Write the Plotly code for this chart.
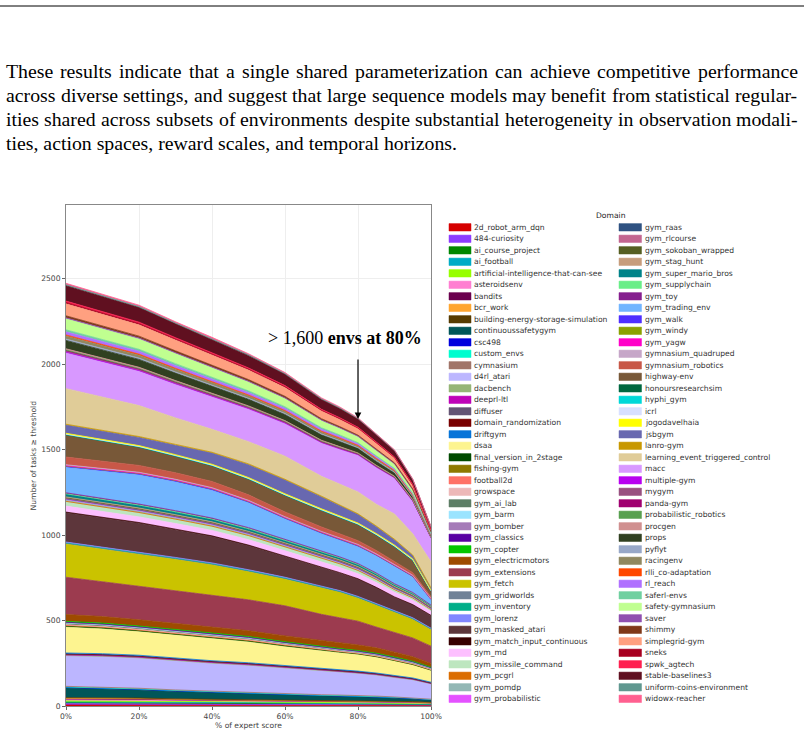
import plotly.graph_objects as go

# ---------------- data ----------------
x_pct = [0, 10, 20, 30, 40, 50, 60, 70, 75, 80, 85, 90, 95, 100]

d_2d_robot_arm_dqn = [6, 6, 6, 5, 5, 5, 5, 4, 4, 4, 4, 3, 3, 3]
d_484_curiosity = [8, 8, 7, 7, 7, 6, 6, 6, 6, 5, 5, 5, 4, 4]
d_ai_course_project = [7, 7, 7, 6, 6, 6, 5, 5, 5, 5, 4, 4, 4, 3]
d_ai_football = [3, 3, 3, 3, 3, 3, 2, 2, 2, 2, 2, 2, 2, 1]
d_artificial_intelligence_that_can_see = [6, 6, 6, 5, 5, 5, 5, 4, 4, 4, 4, 3, 3, 3]
d_asteroidsenv = [8, 8, 7, 7, 6, 6, 6, 5, 5, 5, 5, 4, 4, 3]
d_bandits = [3, 3, 3, 3, 2, 2, 2, 2, 2, 2, 2, 2, 2, 1]
d_bcr_work = [4, 4, 4, 3, 3, 3, 3, 3, 3, 3, 2, 2, 2, 2]
d_building_energy_storage_simulation = [4, 4, 4, 3, 3, 3, 3, 3, 3, 3, 2, 2, 2, 2]
d_continuoussafetygym = [56, 52, 47, 43, 38, 33, 28, 25, 23, 22, 21, 20, 17, 13]
d_csc498 = [4, 4, 4, 4, 3, 3, 3, 3, 3, 3, 3, 3, 2, 2]
d_custom_envs = [2, 2, 2, 2, 2, 2, 2, 1, 1, 1, 1, 1, 1, 1]
d_cymnasium = [4, 4, 4, 3, 3, 3, 3, 3, 3, 3, 3, 2, 2, 2]
d_d4rl_atari = [177, 177, 175, 168, 162, 157, 150, 140, 134, 128, 122, 112, 104, 88]
d_dacbench = [3, 3, 3, 3, 3, 2, 2, 2, 2, 2, 2, 2, 2, 2]
d_deeprl_ltl = [4, 4, 4, 4, 4, 4, 3, 3, 3, 3, 3, 3, 3, 2]
d_diffuser = [3, 3, 3, 3, 3, 3, 3, 2, 2, 2, 2, 2, 2, 2]
d_domain_randomization = [2, 2, 2, 2, 2, 2, 2, 2, 2, 2, 2, 1, 1, 1]
d_driftgym = [6, 6, 6, 6, 5, 5, 5, 5, 5, 5, 4, 4, 4, 4]
d_dsaa = [152, 146, 138, 135, 131, 123, 110, 102, 100, 97, 92, 86, 76, 68]
d_final_version_in_2stage = [5, 5, 5, 5, 5, 4, 4, 4, 4, 4, 4, 3, 3, 3]
d_fishing_gym = [3, 3, 3, 3, 3, 3, 3, 2, 2, 2, 2, 2, 2, 2]
d_football2d = [3, 3, 3, 3, 3, 3, 3, 3, 2, 2, 2, 2, 2, 2]
d_growspace = [3, 3, 3, 3, 3, 3, 3, 2, 2, 2, 2, 2, 2, 2]
d_gym_ai_lab = [6, 6, 6, 6, 5, 5, 5, 5, 5, 4, 4, 4, 4, 3]
d_gym_barm = [3, 3, 3, 3, 3, 3, 2, 2, 2, 2, 2, 2, 2, 2]
d_gym_bomber = [3, 3, 3, 3, 3, 3, 2, 2, 2, 2, 2, 2, 2, 2]
d_gym_classics = [2, 2, 2, 2, 2, 2, 2, 2, 2, 2, 2, 2, 2, 1]
d_gym_copter = [5, 5, 5, 5, 5, 5, 4, 4, 4, 4, 4, 4, 3, 3]
d_gym_electricmotors = [40, 38, 36, 34, 33, 33, 34, 33, 33, 32, 31, 29, 26, 22]
d_gym_extensions = [218, 204, 195, 193, 189, 181, 176, 155, 146, 139, 122, 113, 110, 101]
d_gym_fetch = [195, 193, 189, 183, 176, 165, 157, 156, 150, 136, 128, 118, 109, 98]
d_gym_gridworlds = [4, 4, 4, 4, 4, 4, 3, 3, 3, 3, 3, 3, 3, 2]
d_gym_inventory = [2, 2, 2, 2, 2, 2, 2, 2, 2, 2, 2, 2, 2, 2]
d_gym_lorenz = [5, 5, 5, 5, 5, 5, 5, 4, 4, 4, 4, 4, 4, 3]
d_gym_masked_atari = [171, 169, 170, 161, 154, 140, 122, 108, 102, 100, 92, 80, 74, 72]
d_gym_match_input_continuous = [4, 4, 4, 4, 4, 4, 3, 3, 3, 3, 3, 3, 3, 3]
d_gym_md = [35, 34, 33, 33, 32, 32, 31, 30, 30, 29, 28, 27, 25, 22]
d_gym_missile_command = [25, 24, 23, 23, 22, 21, 20, 19, 19, 18, 16, 14, 12, 10]
d_gym_pcgrl = [3, 3, 3, 3, 3, 3, 3, 3, 3, 2, 2, 2, 2, 2]
d_gym_pomdp = [8, 8, 8, 8, 7, 7, 7, 6, 6, 6, 6, 5, 5, 4]
d_gym_probabilistic = [4, 4, 4, 4, 4, 4, 3, 3, 3, 3, 3, 3, 3, 2]
d_gym_raas = [3, 3, 3, 3, 3, 3, 3, 3, 3, 3, 3, 2, 2, 2]
d_gym_rlcourse = [3, 3, 3, 3, 3, 3, 3, 3, 3, 3, 3, 2, 2, 2]
d_gym_sokoban_wrapped = [3, 3, 3, 3, 3, 3, 3, 3, 3, 3, 2, 2, 2, 2]
d_gym_stag_hunt = [5, 5, 5, 5, 5, 4, 4, 4, 4, 4, 4, 4, 3, 3]
d_gym_super_mario_bros = [15, 15, 14, 14, 13, 13, 12, 12, 11, 11, 10, 9, 8, 6]
d_gym_supplychain = [4, 4, 4, 4, 4, 4, 3, 3, 3, 3, 3, 3, 3, 2]
d_gym_toy = [5, 5, 5, 5, 5, 5, 5, 4, 4, 4, 4, 4, 4, 3]
d_gym_trading_env = [148, 160, 170, 168, 162, 145, 118, 102, 98, 98, 100, 100, 90, 30]
d_gym_walk = [6, 6, 6, 6, 6, 5, 5, 5, 5, 5, 4, 4, 4, 3]
d_gym_windy = [3, 3, 3, 3, 3, 3, 3, 3, 3, 3, 2, 2, 2, 2]
d_gym_yagw = [2, 2, 2, 2, 2, 2, 2, 2, 2, 2, 2, 2, 2, 1]
d_gymnasium_quadruped = [5, 5, 5, 5, 5, 5, 4, 4, 4, 4, 4, 4, 3, 3]
d_gymnasium_robotics = [45, 42, 40, 38, 36, 32, 28, 26, 24, 22, 20, 18, 15, 10]
d_highway_env = [128, 115, 105, 95, 90, 90, 95, 95, 94, 92, 88, 85, 70, 32]
d_honoursresearchsim = [2, 2, 2, 2, 2, 2, 2, 2, 2, 2, 2, 2, 2, 1]
d_hyphi_gym = [2, 2, 2, 2, 2, 2, 2, 2, 2, 2, 2, 2, 2, 1]
d_icrl = [2, 2, 2, 2, 2, 2, 2, 2, 2, 2, 2, 2, 2, 1]
d_jogodavelhaia = [5, 5, 5, 5, 5, 5, 5, 5, 5, 5, 5, 5, 4, 4]
d_jsbgym = [48, 46, 48, 55, 65, 75, 80, 70, 60, 50, 40, 30, 20, 10]
d_lanro_gym = [5, 5, 5, 5, 5, 5, 5, 4, 4, 4, 4, 4, 3, 3]
d_learning_event_triggered_control = [208, 195, 181, 155, 134, 130, 135, 116, 119, 128, 127, 148, 124, 152]
d_macc = [209, 205, 200, 195, 192, 190, 190, 195, 205, 215, 215, 210, 190, 140]
d_multiple_gym = [5, 5, 5, 5, 4, 4, 4, 3, 3, 3, 3, 2, 2, 1]
d_mygym = [5, 5, 5, 5, 4, 4, 4, 3, 3, 3, 3, 2, 2, 1]
d_panda_gym = [4, 4, 4, 4, 3, 3, 3, 3, 3, 2, 2, 2, 2, 1]
d_probabilistic_robotics = [4, 4, 4, 4, 3, 3, 3, 3, 3, 2, 2, 2, 2, 1]
d_procgen = [6, 6, 6, 5, 5, 5, 4, 4, 4, 3, 3, 3, 2, 1]
d_props = [49, 48, 46, 44, 42, 39, 36, 32, 30, 27, 24, 20, 15, 8]
d_pyflyt = [8, 8, 8, 7, 7, 6, 6, 5, 5, 4, 4, 3, 3, 2]
d_racingenv = [18, 18, 17, 16, 15, 14, 13, 12, 11, 10, 9, 7, 6, 3]
d_rlli_co_adaptation = [6, 6, 6, 5, 5, 5, 4, 4, 4, 3, 3, 3, 2, 1]
d_rl_reach = [18, 18, 17, 16, 15, 14, 13, 12, 11, 10, 9, 7, 6, 3]
d_saferl_envs = [12, 12, 11, 11, 10, 10, 9, 8, 7, 6, 6, 5, 4, 2]
d_safety_gymnasium = [65, 63, 61, 59, 56, 52, 48, 42, 39, 35, 31, 26, 20, 9]
d_saver = [5, 5, 5, 5, 4, 4, 4, 3, 3, 3, 3, 2, 2, 1]
d_shimmy = [12, 12, 11, 11, 10, 10, 9, 8, 7, 6, 6, 5, 4, 2]
d_simplegrid_gym = [70, 68, 66, 63, 60, 56, 51, 45, 42, 38, 33, 28, 21, 10]
d_sneks = [8, 8, 8, 7, 7, 6, 6, 5, 5, 4, 4, 3, 3, 2]
d_spwk_agtech = [8, 8, 8, 7, 7, 6, 6, 5, 5, 4, 4, 3, 3, 2]
d_stable_baselines3 = [90, 88, 85, 81, 77, 72, 66, 58, 54, 48, 43, 36, 27, 13]
d_uniform_coins_environment = [6, 6, 6, 5, 5, 5, 4, 4, 4, 3, 3, 3, 2, 1]
d_widowx_reacher = [8, 8, 8, 7, 7, 6, 6, 5, 5, 4, 4, 3, 3, 2]

domains = [
    "2d_robot_arm_dqn", "484-curiosity", "ai_course_project", "ai_football",
    "artificial-intelligence-that-can-see", "asteroidsenv", "bandits", "bcr_work",
    "building-energy-storage-simulation", "continuoussafetygym", "csc498", "custom_envs",
    "cymnasium", "d4rl_atari", "dacbench", "deeprl-ltl", "diffuser", "domain_randomization",
    "driftgym", "dsaa", "final_version_in_2stage", "fishing-gym", "football2d", "growspace",
    "gym_ai_lab", "gym_barm", "gym_bomber", "gym_classics", "gym_copter", "gym_electricmotors",
    "gym_extensions", "gym_fetch", "gym_gridworlds", "gym_inventory", "gym_lorenz",
    "gym_masked_atari", "gym_match_input_continuous", "gym_md", "gym_missile_command",
    "gym_pcgrl", "gym_pomdp", "gym_probabilistic",
    "gym_raas", "gym_rlcourse", "gym_sokoban_wrapped", "gym_stag_hunt", "gym_super_mario_bros",
    "gym_supplychain", "gym_toy", "gym_trading_env", "gym_walk", "gym_windy", "gym_yagw",
    "gymnasium_quadruped", "gymnasium_robotics", "highway-env", "honoursresearchsim",
    "hyphi_gym", "icrl", "jogodavelhaia", "jsbgym", "lanro-gym",
    "learning_event_triggered_control", "macc", "multiple-gym", "mygym", "panda-gym",
    "probabilistic_robotics", "procgen", "props", "pyflyt", "racingenv", "rlli_co-adaptation",
    "rl_reach", "saferl-envs", "safety-gymnasium", "saver", "shimmy", "simplegrid-gym",
    "sneks", "spwk_agtech", "stable-baselines3", "uniform-coins-environment", "widowx-reacher",
]

series_values = [
    d_2d_robot_arm_dqn, d_484_curiosity, d_ai_course_project, d_ai_football,
    d_artificial_intelligence_that_can_see, d_asteroidsenv, d_bandits, d_bcr_work,
    d_building_energy_storage_simulation, d_continuoussafetygym, d_csc498, d_custom_envs,
    d_cymnasium, d_d4rl_atari, d_dacbench, d_deeprl_ltl, d_diffuser, d_domain_randomization,
    d_driftgym, d_dsaa, d_final_version_in_2stage, d_fishing_gym, d_football2d, d_growspace,
    d_gym_ai_lab, d_gym_barm, d_gym_bomber, d_gym_classics, d_gym_copter, d_gym_electricmotors,
    d_gym_extensions, d_gym_fetch, d_gym_gridworlds, d_gym_inventory, d_gym_lorenz,
    d_gym_masked_atari, d_gym_match_input_continuous, d_gym_md, d_gym_missile_command,
    d_gym_pcgrl, d_gym_pomdp, d_gym_probabilistic,
    d_gym_raas, d_gym_rlcourse, d_gym_sokoban_wrapped, d_gym_stag_hunt, d_gym_super_mario_bros,
    d_gym_supplychain, d_gym_toy, d_gym_trading_env, d_gym_walk, d_gym_windy, d_gym_yagw,
    d_gymnasium_quadruped, d_gymnasium_robotics, d_highway_env, d_honoursresearchsim,
    d_hyphi_gym, d_icrl, d_jogodavelhaia, d_jsbgym, d_lanro_gym,
    d_learning_event_triggered_control, d_macc, d_multiple_gym, d_mygym, d_panda_gym,
    d_probabilistic_robotics, d_procgen, d_props, d_pyflyt, d_racingenv, d_rlli_co_adaptation,
    d_rl_reach, d_saferl_envs, d_safety_gymnasium, d_saver, d_shimmy, d_simplegrid_gym,
    d_sneks, d_spwk_agtech, d_stable_baselines3, d_uniform_coins_environment, d_widowx_reacher,
]

colors = [
    "#d60000", "#8c3bff", "#018700", "#00acc6", "#97ff00", "#ff7ed1", "#6b004f", "#ffa52f",
    "#573b00", "#005659", "#0000dd", "#00fdcf", "#a17569", "#bcb6ff", "#95b577", "#bf03b8",
    "#645474", "#790000", "#0774d8", "#fdf490", "#004b00", "#8e7900", "#ff7266", "#edb8b8",
    "#5d7e66", "#9ae4ff", "#a57bb8", "#5900a3", "#03c600", "#9e4b00", "#9c3b4f", "#cac300",
    "#708297", "#00af89", "#8287ff", "#5d363b", "#380000", "#fdbfff", "#bde6bf", "#db6d01",
    "#93b8b5", "#e452ff",
    "#2f5282", "#c36690", "#555f22", "#c79d7c", "#008389", "#6aee88", "#861f8f", "#71b5ff",
    "#4f2fff", "#8ba100", "#ff00c8", "#c6a6c8", "#c85848", "#785838", "#006840", "#00d8d8",
    "#d8e0ff", "#ffff00", "#6868b0", "#c89800", "#e0cc98", "#d898ff", "#b800f0", "#985080",
    "#a00070", "#58a050", "#d09090", "#304020", "#98a8c8", "#908860", "#ff4800", "#b070ff",
    "#70d0a0", "#c0ff90", "#9050b0", "#803818", "#ffa080", "#a80020", "#ff2050", "#601020",
    "#609890", "#ff6090",
]

x_tick_vals = [0, 20, 40, 60, 80, 100]
x_tick_text = ["0%", "20%", "40%", "60%", "80%", "100%"]
y_tick_vals = [0, 500, 1000, 1500, 2000, 2500]

paragraph_lines = [
    "These results indicate that a single shared parameterization can achieve competitive performance",
    "across diverse settings, and suggest that large sequence models may benefit from statistical regular-",
    "ities shared across subsets of environments despite substantial heterogeneity in observation modali-",
    "ties, action spaces, reward scales, and temporal horizons.",
]

# ---------------- layout helpers ----------------
W, H = 804, 736
PL, PR, PT, PB = 66, 431, 205, 706
Y_MAX = 2930
SANS = "DejaVu Sans"
SERIF = "Liberation Serif"
GREY = "#444444"


def fx(px):
    return (px - PL) / (PR - PL)


def fy(py):
    return (PB - py) / (PB - PT)


TIMES_W = {
    " ": 250, ",": 250, ".": 250, "-": 333, "T": 611,
    "a": 444, "b": 500, "c": 444, "d": 500, "e": 444, "f": 333, "g": 500, "h": 500,
    "i": 278, "j": 278, "k": 500, "l": 278, "m": 778, "n": 500, "o": 500, "p": 500,
    "q": 500, "r": 333, "s": 389, "t": 278, "u": 500, "v": 500, "w": 722, "x": 500,
    "y": 500, "z": 444,
}


def text_width(s, size):
    return sum(TIMES_W.get(c, 500) for c in s) / 1000.0 * size


fig = go.Figure()

for name, vals, col in zip(domains, series_values, colors):
    fig.add_trace(go.Scatter(
        x=x_pct, y=vals, name=name, mode="lines", stackgroup="one",
        line=dict(color=col, width=0.8), fillcolor=col,
        showlegend=False, hoverinfo="skip",
    ))

annotations = []
shapes = []

# paragraph text (justified)
PARA_SIZE = 19.8
line_mid = [71, 95, 119, 143]
for i, line in enumerate(paragraph_lines):
    yv = fy(line_mid[i])
    if i < 3:
        words = line.split(" ")
        total = sum(text_width(w, PARA_SIZE) for w in words)
        gap = (798 - 6 - total) / (len(words) - 1)
        xp = 6.0
        for w in words:
            annotations.append(dict(
                x=fx(xp), y=yv, xref="paper", yref="paper", text=w, showarrow=False,
                xanchor="left", yanchor="middle", borderpad=0, borderwidth=0,
                font=dict(family=SERIF, size=PARA_SIZE, color="#000000"),
            ))
            xp += text_width(w, PARA_SIZE) + gap
    else:
        annotations.append(dict(
            x=fx(6), y=yv, xref="paper", yref="paper", text=line, showarrow=False,
            xanchor="left", yanchor="middle", borderpad=0, borderwidth=0,
            font=dict(family=SERIF, size=PARA_SIZE, color="#000000"),
        ))

# top rule
shapes.append(dict(type="line", xref="paper", yref="paper", x0=fx(0), x1=fx(804),
                   y0=fy(6), y1=fy(6), line=dict(color="#000000", width=1)))

# axis titles
annotations.append(dict(x=0.5, y=fy(725), xref="paper", yref="paper", text="% of expert score",
                        showarrow=False, xanchor="center", yanchor="middle",
                        font=dict(family=SANS, size=7.6, color=GREY)))
annotations.append(dict(x=fx(33), y=0.5, xref="paper", yref="paper",
                        text="Number of tasks ≥ threshold", textangle=-90,
                        showarrow=False, xanchor="center", yanchor="middle",
                        font=dict(family=SANS, size=7.6, color=GREY)))

# callout
annotations.append(dict(x=fx(345), y=fy(338), xref="paper", yref="paper",
                        text="&gt; 1,600 <b>envs at 80%</b>", showarrow=False,
                        xanchor="center", yanchor="middle",
                        font=dict(family=SERIF, size=18, color="#000000")))
annotations.append(dict(x=80, y=(PB - 419) / (PB - PT) * Y_MAX, xref="x", yref="y",
                        text="", showarrow=True, ax=0, ay=-61, axref="pixel", ayref="pixel",
                        arrowhead=2, arrowsize=1.1, arrowwidth=1.2, arrowcolor="#000000"))

# manual legend
annotations.append(dict(x=fx(611), y=fy(215), xref="paper", yref="paper", text="Domain",
                        showarrow=False, xanchor="center", yanchor="middle",
                        font=dict(family=SANS, size=7.6, color="#222222")))
ROW0, ROWSTEP = 227.3, 11.5
for i, (name, col) in enumerate(zip(domains, colors)):
    c = 0 if i < 42 else 1
    r = i if i < 42 else i - 42
    yc = ROW0 + r * ROWSTEP
    sx0, sx1, tx = (449, 471, 474) if c == 0 else (619, 641.5, 645)
    shapes.append(dict(type="rect", xref="paper", yref="paper",
                       x0=fx(sx0), x1=fx(sx1), y0=fy(yc + 3.7), y1=fy(yc - 3.7),
                       fillcolor=col, line=dict(color=col, width=0.5)))
    annotations.append(dict(x=fx(tx), y=fy(yc), xref="paper", yref="paper", text=name,
                            showarrow=False, xanchor="left", yanchor="middle",
                            borderpad=0, borderwidth=0,
                            font=dict(family=SANS, size=7.6, color="#333333")))

fig.update_layout(
    width=W, height=H,
    margin=dict(l=PL, r=W - PR, t=PT, b=H - PB, pad=0),
    paper_bgcolor="white", plot_bgcolor="white",
    showlegend=False,
    font=dict(family=SANS, size=7.6, color=GREY),
    annotations=annotations, shapes=shapes,
)
fig.update_xaxes(range=[0, 100], tickmode="array", tickvals=x_tick_vals, ticktext=x_tick_text,
                 showgrid=True, gridcolor="#eeeeee", gridwidth=1, zeroline=False,
                 showline=True, mirror=True, linecolor="#888888", linewidth=1,
                 ticks="outside", ticklen=3, tickcolor="#666666",
                 tickfont=dict(family=SANS, size=7.6, color=GREY), automargin=False)
fig.update_yaxes(range=[0, Y_MAX], tickmode="array", tickvals=y_tick_vals,
                 showgrid=True, gridcolor="#eeeeee", gridwidth=1, zeroline=False,
                 showline=True, mirror=True, linecolor="#888888", linewidth=1,
                 ticks="outside", ticklen=3, tickcolor="#666666",
                 tickfont=dict(family=SANS, size=7.6, color=GREY), automargin=False)

fig.write_html("out.html", config={"displayModeBar": False})
